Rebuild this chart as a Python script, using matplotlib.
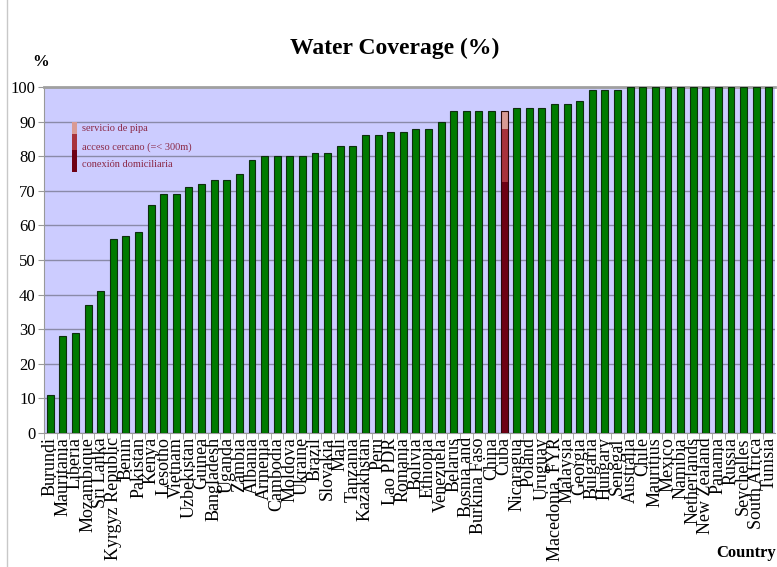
import matplotlib

matplotlib.use("Agg")
import matplotlib.pyplot as plt
from matplotlib.lines import Line2D
from matplotlib.patches import Rectangle


countries = [
    "Burundi", "Mauritania", "Liberia", "Mozambique", "Sri Lanka",
    "Kyrgyz Republic", "Benin", "Pakistan", "Kenya", "Lesotho", "Vietnam",
    "Uzbekistan", "Guinea", "Bangladesh", "Uganda", "Zambia", "Albania",
    "Armenia", "Cambodia", "Moldova", "Ukraine", "Brazil", "Slovakia", "Mali",
    "Tanzania", "Kazakhstan", "Peru", "Lao PDR", "Romania", "Bolivia",
    "Ethiopia", "Venezuela", "Belarus", "Bosnia and", "Burkina Faso", "China",
    "Cuba", "Nicaragua", "Poland", "Uruguay", "Macedonia, FYR", "Malaysia",
    "Georgia", "Bulgaria", "Hungary", "Senegal", "Australia", "Chile",
    "Mauritius", "Mexico", "Namibia", "Netherlands", "New Zealand", "Panama",
    "Russia", "Seychelles", "South Africa", "Tunisia",
]
coverage = [
    11, 28, 29, 37, 41, 56, 57, 58, 66, 69, 69, 71, 72, 73, 73, 75, 79,
    80, 80, 80, 80, 81, 81, 83, 83, 86, 86, 87, 87, 88, 88, 90, 93, 93,
    93, 93, 93, 94, 94, 94, 95, 95, 96, 99, 99, 99, 100, 100, 100, 100,
    100, 100, 100, 100, 100, 100, 100, 100,
]

# Cuba is split by type of access
split_country = "Cuba"
split_labels = ["conexión domiciliaria", "acceso cercano (=< 300m)", "servicio de pipa"]
split_values = [72.5, 15.5, 5.0]
split_colors = ["#6E0014", "#A8323C", "#D99A94"]

yticks = list(range(0, 101, 10))

SERIF = ["Liberation Serif", "DejaVu Serif"]
plt.rcParams["font.family"] = SERIF

fig = plt.figure(figsize=(7.77, 5.67), dpi=100)
ax = fig.add_axes([0.0566, 0.2363, 0.941, 0.6102])
ax.set_facecolor("#CCCCFF")

positions = list(range(len(countries)))
green_x = [p for p, c in zip(positions, countries) if c != split_country]
green_y = [v for v, c in zip(coverage, countries) if c != split_country]
ax.bar(green_x, green_y, width=0.55, color="#007A00", edgecolor="#0E2E0E",
       linewidth=0.8, zorder=3)

split_x = countries.index(split_country)
bottom = 0
for value, color in zip(split_values, split_colors):
    ax.bar(split_x, value, bottom=bottom, width=0.55, color=color,
           edgecolor="none", zorder=3)
    bottom += value
ax.bar(split_x, bottom, width=0.55, fill=False, edgecolor="#2A0A0A",
       linewidth=0.8, zorder=4)

ax.set_xlim(-0.5, len(countries) - 0.5)
ax.set_ylim(0, 100)
ax.set_yticks(yticks)
ax.set_yticklabels([str(t) for t in yticks], fontsize=12)
ax.yaxis.grid(True, color="#8A8AA8", linewidth=1.0, zorder=1)

ax.set_xticks(positions)
ax.set_xticklabels(countries, rotation=90, fontsize=13, va="top", ha="center")
ax.tick_params(axis="x", length=0, pad=3)
ax.set_xticks([p + 0.5 for p in positions[:-1]] + [-0.5], minor=True)
ax.tick_params(axis="x", which="minor", length=4, color="#999999")
ax.tick_params(axis="y", length=4, color="#999999", pad=2)

for side in ("left", "bottom"):
    ax.spines[side].set_color("#999999")
ax.spines["top"].set_color("#A0A0A0")
ax.spines["top"].set_linewidth(2)
ax.spines["right"].set_visible(False)

# hand-made legend: small stacked bar with labels
seg_edges = [0.754, 0.818, 0.864, 0.899]
for i, color in enumerate(split_colors):
    ax.add_patch(Rectangle((0.038, seg_edges[i]), 0.007,
                           seg_edges[i + 1] - seg_edges[i],
                           transform=ax.transAxes, facecolor=color,
                           edgecolor="none", zorder=5))
for label, ypos in zip(split_labels, [0.777, 0.827, 0.879]):
    ax.text(0.052, ypos, label, transform=ax.transAxes, fontsize=7.5,
            color="#8B2846", va="center", ha="left", zorder=5)

fig.text(0.508, 0.915, "Water Coverage (%)", ha="center", va="center",
         fontsize=17, fontweight="bold")
fig.text(0.052, 0.89, "%", ha="center", va="center", fontsize=12,
         fontweight="bold")
fig.text(0.999, 0.025, "Country", ha="right", va="center", fontsize=12,
         fontweight="bold")
fig.add_artist(Line2D([0.009, 0.009], [0.0, 1.0], color="#C8C8C8",
                      linewidth=1))

fig.savefig("out.png", dpi=100)
